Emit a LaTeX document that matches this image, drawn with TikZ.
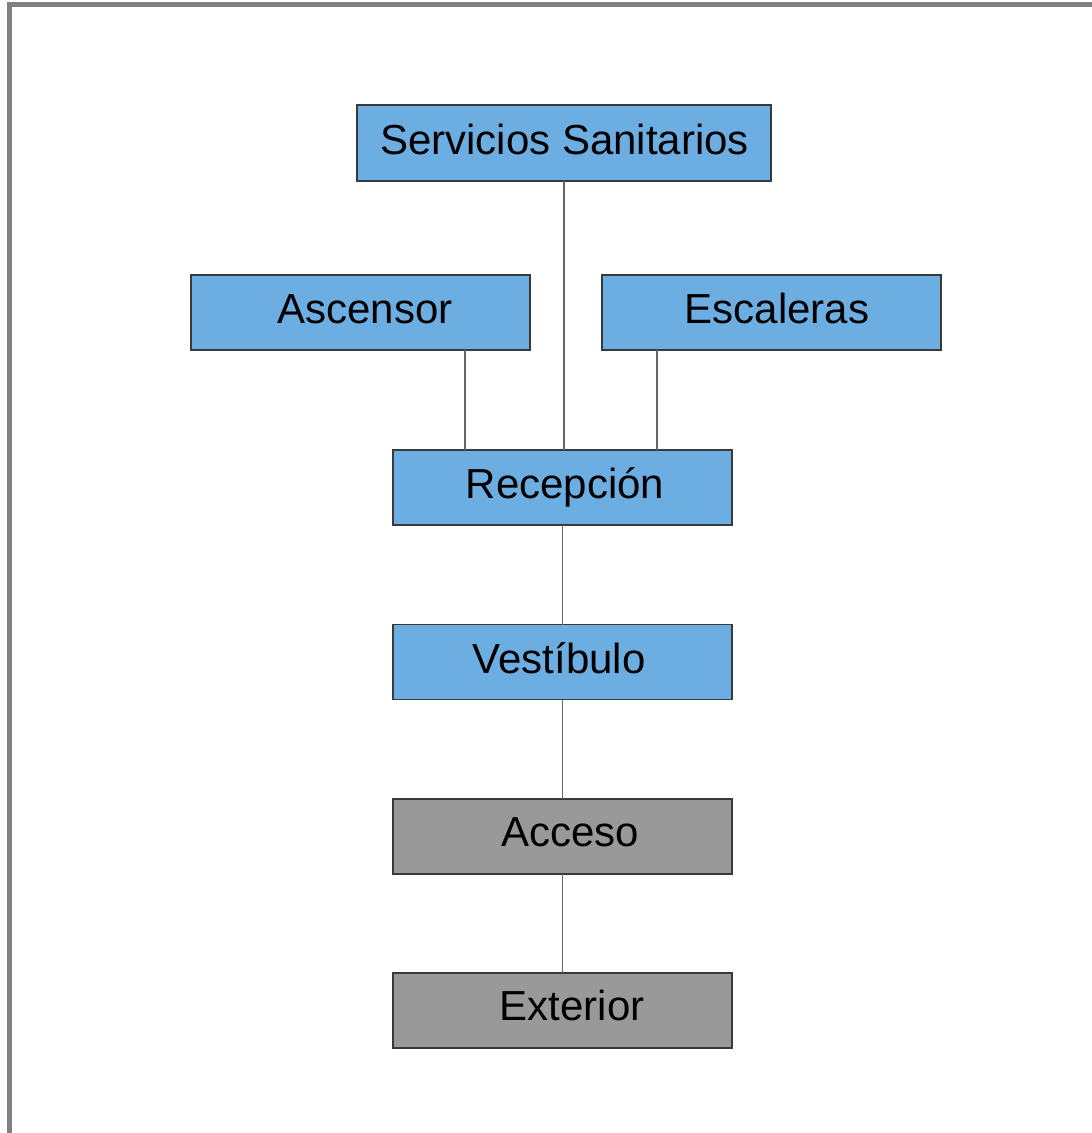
\documentclass[tikz,border=0pt]{standalone}
\usepackage{fontspec}
\setmainfont{Liberation Sans}
\definecolor{boxblue}{HTML}{6CADE2}
\definecolor{boxgray}{HTML}{999999}
\definecolor{frame}{HTML}{808080}
\definecolor{edge}{HTML}{3A3A3A}
\definecolor{link}{HTML}{666666}
\begin{document}
\begin{tikzpicture}[x=1pt,y=-1pt,
  box/.style={draw=edge, line width=1.3pt, minimum height=75pt, minimum width=339pt, inner sep=0pt, outer sep=0pt},
  bluebox/.style={box, fill=boxblue},
  graybox/.style={box, fill=boxgray},
  lbl/.style={anchor=base, inner sep=0pt, font=\fontsize{42}{50}\selectfont},
  conn/.style={draw=link, line width=1.6pt}]
\useasboundingbox (0,0) rectangle (1092,1133);
\fill[white] (0,0) rectangle (1092,1133);
% frame
\fill[frame] (7,2) rectangle (1092,7);
\fill[frame] (7,2) rectangle (12,1133);
% connectors
\coordinate (ascdrop) at (465,350);
\coordinate (escdrop) at (657,350);
% boxes
\node[bluebox, minimum width=414pt, minimum height=76pt] (ss) at (564,143) {};
\node[bluebox] (asc) at (360.5,312.5) {};
\node[bluebox] (esc) at (771.5,312.5) {};
\node[bluebox] (rec) at (562.5,487.5) {};
\node[bluebox] (ves) at (562.5,662) {};
\node[graybox] (acc) at (562.5,836.5) {};
\node[graybox] (ext) at (562.5,1010.5) {};
% labels
\node[lbl] (tss) at ([xshift=0.5pt,yshift=-11pt]ss.center) {Servicios Sanitarios};
\node[lbl] (tasc) at ([xshift=4.5pt,yshift=-11pt]asc.center) {Ascensor};
\node[lbl] (tesc) at ([xshift=5.5pt,yshift=-11pt]esc.center) {Escaleras};
\node[lbl] (trec) at ([xshift=2.5pt,yshift=-11pt]rec.center) {Recepción};
\node[lbl] (tves) at ([xshift=-3.5pt,yshift=-11pt]ves.center) {Vestíbulo};
\node[lbl] (tacc) at ([xshift=7.5pt,yshift=-10pt]acc.center) {Acceso};
\node[lbl] (text) at ([xshift=9.5pt,yshift=-10pt]ext.center) {Exterior};
% connectors
\draw[conn] (ss.south) -- (ss.south |- rec.north);
\draw[conn] (ascdrop |- asc.south) -- (ascdrop |- rec.north);
\draw[conn] (escdrop |- esc.south) -- (escdrop |- rec.north);
\draw[conn] (rec.south) -- (ves.north);
\draw[conn] (ves.south) -- (acc.north);
\draw[conn] (acc.south) -- (ext.north);
\end{tikzpicture}
\end{document}
